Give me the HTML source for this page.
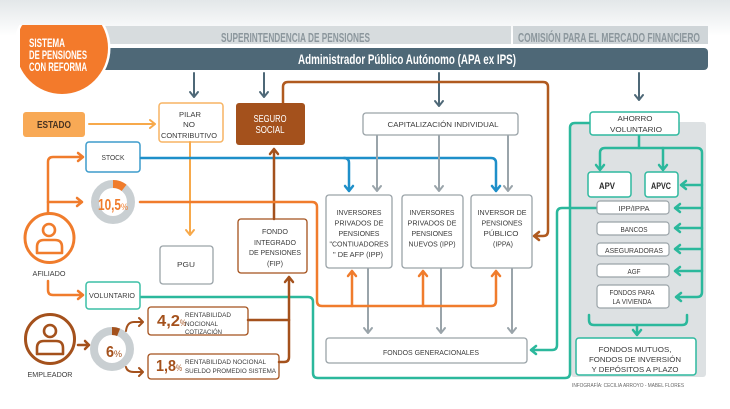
<!DOCTYPE html>
<html><head><meta charset="utf-8"><style>
html,body{margin:0;padding:0;background:#fff;}
svg{display:block}
text{font-family:"Liberation Sans",sans-serif;}
.b{fill:#3b3b3b;font-size:7.5px;text-anchor:middle}
.s{fill:none;stroke-linecap:round;stroke-linejoin:round}
</style></head><body>
<svg width="730" height="409" viewBox="0 0 730 409" xmlns="http://www.w3.org/2000/svg">
<defs>
<linearGradient id="bg" x1="0" y1="0" x2="0" y2="1"><stop offset="0" stop-color="#e3e7e9"/><stop offset="1" stop-color="#ffffff"/></linearGradient>
<clipPath id="cb"><rect x="20" y="25" width="110" height="80" rx="3"/></clipPath>
<clipPath id="cw"><rect x="16" y="25" width="110" height="80"/></clipPath>
</defs>
<rect width="730" height="409" fill="#fff"/>
<rect width="730" height="36" fill="url(#bg)"/>

<!-- header bars -->
<rect x="100" y="26" width="411" height="18" fill="#d7dcde"/>
<rect x="513" y="26" width="195" height="18" fill="#cfd5d8"/>
<rect x="100" y="48" width="608" height="22" rx="4" fill="#4e6877"/>
<text x="221" y="42" font-size="13" font-weight="bold" fill="#8c979d" textLength="149" lengthAdjust="spacingAndGlyphs">SUPERINTENDENCIA DE PENSIONES</text>
<text x="518" y="42" font-size="13" font-weight="bold" fill="#8c979d" textLength="182" lengthAdjust="spacingAndGlyphs">COMISIÓN PARA EL MERCADO FINANCIERO</text>
<text x="298" y="64" font-size="14" font-weight="bold" fill="#fff" textLength="218" lengthAdjust="spacingAndGlyphs">Administrador Público Autónomo (APA ex IPS)</text>

<!-- blob -->
<circle cx="62" cy="48" r="48.5" fill="#fff" clip-path="url(#cw)"/>
<circle cx="62" cy="48" r="46" fill="#f37a2b" clip-path="url(#cb)"/>
<text x="29" y="47" font-size="11.5" font-weight="bold" fill="#fff" textLength="36" lengthAdjust="spacingAndGlyphs">SISTEMA</text>
<text x="29" y="59" font-size="11.5" font-weight="bold" fill="#fff" textLength="58" lengthAdjust="spacingAndGlyphs">DE PENSIONES</text>
<text x="29" y="71" font-size="11.5" font-weight="bold" fill="#fff" textLength="58" lengthAdjust="spacingAndGlyphs">CON REFORMA</text>

<!-- slate arrows from APA -->
<g class="s" stroke="#4e6877" stroke-width="2">
<path d="M194 73 L194 97 M190 92 L194 97 L198 92"/>
<path d="M264 73 L264 97 M260 92 L264 97 L268 92"/>
<path d="M439 73 L439 106 M435 101 L439 106 L443 101"/>
<path d="M639 73 L639 100 M635 95 L639 100 L643 95"/>
</g>

<!-- right gray panel -->
<rect x="571" y="122" width="135" height="255" rx="3" fill="#dde1e3"/>

<!-- brown loop from SEGURO -->
<path class="s" stroke="#b05a1f" stroke-width="2.5" d="M283 103 L283 87 Q283 82 288 82 L543 82 Q548 82 548 87 L548 231 Q548 236 543 236 L534 236 M539 232 L534 236 L539 240"/>

<!-- ESTADO -->
<rect x="23" y="112" width="62" height="25" rx="3" fill="#f8a955"/>
<text x="54" y="128" font-size="10" font-weight="bold" fill="#4a3422" text-anchor="middle" textLength="34" lengthAdjust="spacingAndGlyphs">ESTADO</text>
<path class="s" stroke="#f7a94b" stroke-width="2" d="M89 124 L155 124 M150 120 L155 124 L150 128"/>

<!-- PILAR -->
<rect x="159" y="103" width="64" height="39" rx="3" fill="#fff" stroke="#f7b464" stroke-width="1.5"/>
<text class="b" x="190" y="117" font-size="8" textLength="22" lengthAdjust="spacingAndGlyphs">PILAR</text>
<text class="b" x="189" y="127" font-size="8" textLength="12" lengthAdjust="spacingAndGlyphs">NO</text>
<text class="b" x="189" y="138" font-size="8" textLength="56" lengthAdjust="spacingAndGlyphs">CONTRIBUTIVO</text>
<path class="s" stroke="#f7a94b" stroke-width="2" d="M190 142 L190 235 M186 230 L190 235 L194 230"/>

<!-- PGU -->
<rect x="160" y="246" width="53" height="38" rx="3" fill="#fff" stroke="#9aa3a8" stroke-width="1.3"/>
<text class="b" x="186" y="267" font-size="9" textLength="18" lengthAdjust="spacingAndGlyphs">PGU</text>

<!-- SEGURO SOCIAL -->
<rect x="236" y="103" width="69" height="42" rx="3" fill="#a4511c"/>
<text x="270" y="122" font-size="10" fill="#fff" text-anchor="middle" textLength="33" lengthAdjust="spacingAndGlyphs">SEGURO</text>
<text x="270" y="133" font-size="10" fill="#fff" text-anchor="middle" textLength="29" lengthAdjust="spacingAndGlyphs">SOCIAL</text>

<!-- STOCK & blue line -->
<rect x="86" y="142" width="54" height="30" rx="3" fill="#fff" stroke="#3d9ccc" stroke-width="1.5"/>
<text class="b" x="113" y="160" font-size="8" textLength="23" lengthAdjust="spacingAndGlyphs">STOCK</text>
<g class="s" stroke="#1e8fc9" stroke-width="2.5">
<path d="M141 158 L491 158 Q496 158 496 163 L496 191 M492 186 L496 191 L500 186"/>
<path d="M344 158 Q349 158 349 163 L349 191 M345 186 L349 191 L353 186"/>
</g>

<!-- FIP -->
<rect x="238" y="219" width="69" height="54" rx="3" fill="#fff" stroke="#a4511c" stroke-width="1.3"/>
<text class="b" x="275" y="234" textLength="26" lengthAdjust="spacingAndGlyphs">FONDO</text>
<text class="b" x="275" y="245" textLength="42" lengthAdjust="spacingAndGlyphs">INTEGRADO</text>
<text class="b" x="275" y="255" textLength="52" lengthAdjust="spacingAndGlyphs">DE PENSIONES</text>
<text class="b" x="275" y="266" textLength="16" lengthAdjust="spacingAndGlyphs">(FIP)</text>
<path class="s" stroke="#a4511c" stroke-width="2.5" d="M274 219 L274 149 M270 154 L274 149 L278 154"/>

<!-- CAPITALIZACION -->
<rect x="363" y="113" width="155" height="22" rx="3" fill="#fff" stroke="#9aa3a8" stroke-width="1.3"/>
<text class="b" x="443" y="127" font-size="9" textLength="111" lengthAdjust="spacingAndGlyphs">CAPITALIZACIÓN INDIVIDUAL</text>
<g class="s" stroke="#9aa4aa" stroke-width="2">
<path d="M377 136 L377 191 M373 186 L377 191 L381 186"/>
<path d="M439 136 L439 191 M435 186 L439 191 L443 186"/>
<path d="M508 136 L508 191 M504 186 L508 191 L512 186"/>
</g>

<!-- investor boxes -->
<rect x="326" y="195" width="66" height="73" rx="3" fill="#fff" stroke="#9aa3a8" stroke-width="1.3"/>
<rect x="402" y="195" width="61" height="73" rx="3" fill="#fff" stroke="#9aa3a8" stroke-width="1.3"/>
<rect x="471" y="195" width="61" height="73" rx="3" fill="#fff" stroke="#9aa3a8" stroke-width="1.3"/>
<text class="b" x="359" y="215" textLength="45" lengthAdjust="spacingAndGlyphs">INVERSORES</text>
<text class="b" x="359" y="225.5" textLength="49" lengthAdjust="spacingAndGlyphs">PRIVADOS DE</text>
<text class="b" x="359" y="236" textLength="41" lengthAdjust="spacingAndGlyphs">PENSIONES</text>
<text class="b" x="359" y="246.5" textLength="59" lengthAdjust="spacingAndGlyphs">"CONTIUADORES</text>
<text class="b" x="358" y="257" textLength="50" lengthAdjust="spacingAndGlyphs">" DE AFP (IPP)</text>
<text class="b" x="432" y="215" textLength="45" lengthAdjust="spacingAndGlyphs">INVERSORES</text>
<text class="b" x="432" y="225.5" textLength="49" lengthAdjust="spacingAndGlyphs">PRIVADOS DE</text>
<text class="b" x="432" y="236" textLength="41" lengthAdjust="spacingAndGlyphs">PENSIONES</text>
<text class="b" x="432" y="246.5" textLength="47" lengthAdjust="spacingAndGlyphs">NUEVOS (IPP)</text>
<text class="b" x="502" y="215" textLength="49" lengthAdjust="spacingAndGlyphs">INVERSOR DE</text>
<text class="b" x="502" y="225.5" textLength="41" lengthAdjust="spacingAndGlyphs">PENSIONES</text>
<text class="b" x="501" y="236" textLength="35" lengthAdjust="spacingAndGlyphs">PÚBLICO</text>
<text class="b" x="503" y="246.5" textLength="20" lengthAdjust="spacingAndGlyphs">(IPPA)</text>

<!-- gray to fondos generacionales -->
<g class="s" stroke="#9aa4aa" stroke-width="2">
<path d="M368 269 L368 333 M364 328 L368 333 L372 328"/>
<path d="M441 269 L441 333 M437 328 L441 333 L445 328"/>
<path d="M512 269 L512 333 M508 328 L512 333 L516 328"/>
</g>
<rect x="326" y="338" width="201" height="25" rx="3" fill="#fff" stroke="#9aa3a8" stroke-width="1.3"/>
<text class="b" x="431" y="355" font-size="9" textLength="96" lengthAdjust="spacingAndGlyphs">FONDOS GENERACIONALES</text>

<!-- orange from 10.5 -->
<g class="s" stroke="#f07c2c" stroke-width="2.5">
<path d="M140 202 L312 202 Q317 202 317 207 L317 301 Q317 306 322 306 L491 306 Q496 306 496 301 L496 271 M492 276 L496 271 L500 276"/>
<path d="M352 306 L352 271 M348 276 L352 271 L356 276"/>
<path d="M423 306 L423 271 M419 276 L423 271 L427 276"/>
</g>

<!-- teal lines -->
<g class="s" stroke="#2bb89c" stroke-width="2.5">
<path d="M141 297 L308 297 Q313 297 313 302 L313 373 Q313 378 318 378 L565 378 Q570 378 570 373 L570 128 Q570 123 575 123 L590 123"/>
<path d="M597 208 L562 208 Q557 208 557 213 L557 345 Q557 350 552 350 L531 350 M536 346 L531 350 L536 354"/>
<path d="M639 135 L639 148"/>
<path d="M600 169 L600 153 Q600 148 605 148 L697 148 Q702 148 702 153 L702 292 Q702 297 697 297 L676 297 M681 293 L676 297 L681 301"/>
<path d="M596 165 L600 170 L604 165"/>
<path d="M663 148 L663 170 M659 165 L663 170 L667 165"/>
<path d="M702 185 L681 185 M686 181 L681 185 L686 189"/>
<path d="M702 208 L675 208 M680 204 L675 208 L680 212"/>
<path d="M702 228 L675 228 M680 224 L675 228 L680 232"/>
<path d="M702 249 L675 249 M680 245 L675 249 L680 253"/>
<path d="M702 271 L675 271 M680 267 L675 271 L680 275"/>
<path d="M589 315 L589 320 Q589 325 594 325 L682 325 Q687 325 687 320 L687 315"/>
<path d="M637 325 L637 335 M633 330 L637 335 L641 330"/>
</g>

<!-- right boxes -->
<rect x="590" y="112" width="89" height="23" rx="3" fill="#fff" stroke="#2fb99f" stroke-width="1.5"/>
<text class="b" x="635" y="121" font-size="9" textLength="35" lengthAdjust="spacingAndGlyphs">AHORRO</text>
<text class="b" x="636" y="132" font-size="9" textLength="52" lengthAdjust="spacingAndGlyphs">VOLUNTARIO</text>
<rect x="588" y="172" width="43" height="25" rx="3" fill="#fff" stroke="#2fb99f" stroke-width="1.5"/>
<rect x="645" y="172" width="33" height="25" rx="3" fill="#fff" stroke="#2fb99f" stroke-width="1.5"/>
<text x="607" y="189" font-size="9" font-weight="bold" fill="#2b2b2b" text-anchor="middle" textLength="16" lengthAdjust="spacingAndGlyphs">APV</text>
<text x="661" y="189" font-size="9" font-weight="bold" fill="#2b2b2b" text-anchor="middle" textLength="20" lengthAdjust="spacingAndGlyphs">APVC</text>
<g fill="#fff" stroke="#9aa3a8" stroke-width="1.2">
<rect x="597" y="201" width="72" height="13" rx="3"/>
<rect x="597" y="222" width="72" height="13" rx="3"/>
<rect x="597" y="243" width="72" height="13" rx="3"/>
<rect x="597" y="264" width="72" height="13" rx="3"/>
<rect x="597" y="285" width="72" height="23" rx="3"/>
</g>
<text class="b" x="634" y="211" font-size="7" textLength="31" lengthAdjust="spacingAndGlyphs">IPP/IPPA</text>
<text class="b" x="634" y="232" font-size="7" textLength="27" lengthAdjust="spacingAndGlyphs">BANCOS</text>
<text class="b" x="634" y="253" font-size="7" textLength="58" lengthAdjust="spacingAndGlyphs">ASEGURADORAS</text>
<text class="b" x="634" y="274" font-size="7" textLength="13" lengthAdjust="spacingAndGlyphs">AGF</text>
<text class="b" x="632" y="295" font-size="7" textLength="45" lengthAdjust="spacingAndGlyphs">FONDOS PARA</text>
<text class="b" x="632" y="304" font-size="7" textLength="39" lengthAdjust="spacingAndGlyphs">LA VIVIENDA</text>
<rect x="576" y="338" width="120" height="37" rx="3" fill="#fff" stroke="#2fb99f" stroke-width="1.5"/>
<text class="b" x="635" y="352" font-size="10" fill="#222" textLength="73" lengthAdjust="spacingAndGlyphs">FONDOS MUTUOS,</text>
<text class="b" x="635" y="362" font-size="10" fill="#222" textLength="92" lengthAdjust="spacingAndGlyphs">FONDOS DE INVERSIÓN</text>
<text class="b" x="635" y="372" font-size="10" fill="#222" textLength="87" lengthAdjust="spacingAndGlyphs">Y DEPÓSITOS A PLAZO</text>
<text x="572" y="387" font-size="5.5" fill="#666" textLength="112" lengthAdjust="spacingAndGlyphs">INFOGRAFÍA: CECILIA ARROYO - MABEL FLORES</text>

<!-- AFILIADO -->
<g class="s" stroke="#f07c2c" stroke-width="2.5">
<path d="M48 213 L48 162 Q48 157 53 157 L83 157 M78 153 L83 157 L78 161"/>
<path d="M48 202 L82 202 M77 198 L82 202 L77 206"/>
<path d="M48 281 L48 290 Q48 295 53 295 L83 295 M78 291 L83 295 L78 299"/>
</g>
<circle cx="49.5" cy="238" r="24.5" fill="#fff" stroke="#f07c2c" stroke-width="3"/>
<circle cx="49" cy="230" r="6" fill="none" stroke="#f07c2c" stroke-width="2.6"/>
<path d="M37 253 L37 247 Q37 240 44 240 L55 240 Q62 240 62 247 L62 253 Z" fill="none" stroke="#f07c2c" stroke-width="2.6" stroke-linejoin="round"/>
<text class="b" x="49" y="276" font-size="7.5" textLength="33" lengthAdjust="spacingAndGlyphs">AFILIADO</text>

<!-- 10.5 donut -->
<circle cx="113" cy="202" r="18" fill="none" stroke="#c9cfd2" stroke-width="8"/>
<path d="M113 184 A18 18 0 0 1 124.1 187.8" fill="none" stroke="#f07c2c" stroke-width="8"/>
<text x="98" y="210" font-size="16" font-weight="bold" fill="#f07c2c" textLength="23" lengthAdjust="spacingAndGlyphs">10,5</text>
<text x="121" y="210" font-size="9" fill="#f07c2c" textLength="7" lengthAdjust="spacingAndGlyphs">%</text>

<!-- VOLUNTARIO -->
<rect x="86" y="282" width="54" height="27" rx="3" fill="#fff" stroke="#3cbfa6" stroke-width="1.5"/>
<text class="b" x="112" y="298" font-size="8" textLength="46" lengthAdjust="spacingAndGlyphs">VOLUNTARIO</text>

<!-- EMPLEADOR -->
<circle cx="50" cy="339" r="24.5" fill="#fff" stroke="#a4511c" stroke-width="3"/>
<circle cx="50" cy="331" r="6" fill="none" stroke="#a4511c" stroke-width="2.6"/>
<path d="M37 354 L37 348 Q37 341 44 341 L56 341 Q63 341 63 348 L63 354 Z" fill="none" stroke="#a4511c" stroke-width="2.6" stroke-linejoin="round"/>
<text class="b" x="50" y="377" font-size="7.5" textLength="45" lengthAdjust="spacingAndGlyphs">EMPLEADOR</text>
<path class="s" stroke="#a4511c" stroke-width="2.5" d="M78 345 L89 345 M85 341 L89 345 L85 349"/>

<!-- 6% donut -->
<circle cx="112" cy="349" r="18" fill="none" stroke="#c9cfd2" stroke-width="8"/>
<path d="M112 331 A18 18 0 0 1 118.6 332.3" fill="none" stroke="#a4511c" stroke-width="8"/>
<text x="106" y="357" font-size="16" font-weight="bold" fill="#a4511c" textLength="8" lengthAdjust="spacingAndGlyphs">6</text>
<text x="114" y="357" font-size="9" fill="#a4511c" textLength="8" lengthAdjust="spacingAndGlyphs">%</text>

<g class="s" stroke="#a4511c" stroke-width="2">
<path d="M126 331 Q127 322 134 322 L143 322 M139 318 L143 322 L139 326"/>
<path d="M126 367 Q127 372 134 372 L143 372 M139 368 L143 372 L139 376"/>
</g>

<!-- 4,2 / 1,8 boxes -->
<rect x="148" y="307" width="100" height="28" rx="3" fill="#fff" stroke="#a4511c" stroke-width="1.3"/>
<rect x="148" y="354" width="131" height="25" rx="3" fill="#fff" stroke="#a4511c" stroke-width="1.3"/>
<text x="157" y="326" font-size="16" font-weight="bold" fill="#a4511c" textLength="23" lengthAdjust="spacingAndGlyphs">4,2</text>
<text x="180" y="326" font-size="9" fill="#a4511c" textLength="6" lengthAdjust="spacingAndGlyphs">%</text>
<text x="185" y="317" font-size="6.5" fill="#3b3b3b" textLength="46" lengthAdjust="spacingAndGlyphs">RENTABILIDAD</text>
<text x="185" y="326" font-size="6.5" fill="#3b3b3b" textLength="33" lengthAdjust="spacingAndGlyphs">NOCIONAL</text>
<text x="185" y="334" font-size="6.5" fill="#3b3b3b" textLength="37" lengthAdjust="spacingAndGlyphs">COTIZACIÓN</text>
<text x="156" y="371" font-size="16" font-weight="bold" fill="#a4511c" textLength="20" lengthAdjust="spacingAndGlyphs">1,8</text>
<text x="176" y="371" font-size="9" fill="#a4511c" textLength="6" lengthAdjust="spacingAndGlyphs">%</text>
<text x="185" y="364" font-size="6.5" fill="#3b3b3b" textLength="81" lengthAdjust="spacingAndGlyphs">RENTABILIDAD NOCIONAL</text>
<text x="185" y="373" font-size="6.5" fill="#3b3b3b" textLength="91" lengthAdjust="spacingAndGlyphs">SUELDO PROMEDIO SISTEMA</text>

<g class="s" stroke="#a4511c" stroke-width="2.5">
<path d="M248 320 L289 320"/>
<path d="M279 362 L284 362 Q289 362 289 357 L289 277 M285 282 L289 277 L293 282"/>
</g>
</svg>
</body></html>
